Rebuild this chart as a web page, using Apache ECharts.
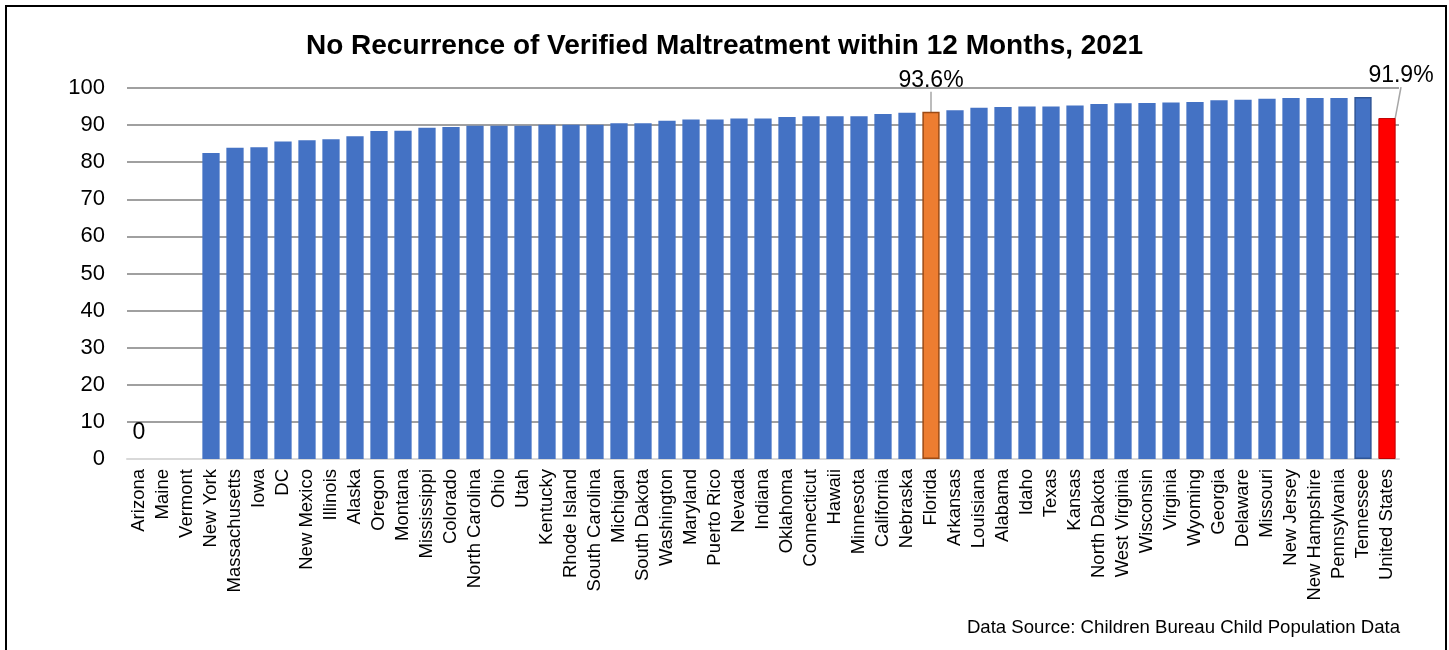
<!DOCTYPE html>
<html>
<head>
<meta charset="utf-8">
<title>No Recurrence of Verified Maltreatment</title>
<script src="https://cdn.jsdelivr.net/npm/echarts@6/dist/echarts.min.js"></script>
<style>
  html, body { margin: 0; padding: 0; background: #fff; }
  #main { width: 1449px; height: 650px; }
</style>
</head>
<body>
<div id="main"></div>
<script>
// states, sorted as in the original chart
const categories = [
  'Arizona', 'Maine', 'Vermont', 'New York', 'Massachusetts', 'Iowa', 'DC',
  'New Mexico', 'Illinois', 'Alaska', 'Oregon', 'Montana', 'Mississippi',
  'Colorado', 'North Carolina', 'Ohio', 'Utah', 'Kentucky', 'Rhode Island',
  'South Carolina', 'Michigan', 'South Dakota', 'Washington', 'Maryland',
  'Puerto Rico', 'Nevada', 'Indiana', 'Oklahoma', 'Connecticut', 'Hawaii',
  'Minnesota', 'California', 'Nebraska', 'Florida', 'Arkansas', 'Louisiana',
  'Alabama', 'Idaho', 'Texas', 'Kansas', 'North Dakota', 'West Virginia',
  'Wisconsin', 'Virginia', 'Wyoming', 'Georgia', 'Delaware', 'Missouri',
  'New Jersey', 'New Hampshire', 'Pennsylvania', 'Tennessee', 'United States',
];
// percent with no recurrence
const values = [
  0, 0, 0, 82.5, 83.9, 84.0, 85.6,
  85.9, 86.2, 87.0, 88.4, 88.5, 89.3,
  89.5, 89.8, 89.8, 89.8, 90.1, 90.1,
  90.1, 90.5, 90.5, 91.2, 91.5,
  91.5, 91.8, 91.8, 92.2, 92.4, 92.4,
  92.4, 93.0, 93.3, 93.6, 94.0, 94.7,
  94.9, 95.0, 95.0, 95.3, 95.7, 95.9,
  95.95, 96.1, 96.2, 96.7, 96.8, 97.1,
  97.3, 97.3, 97.3, 97.6, 91.9,
];
const yTicks = [0, 10, 20, 30, 40, 50, 60, 70, 80, 90, 100];
// bars that carry a value label
const labelled = { Arizona: '0', Florida: '93.6%', 'United States': '91.9%' };

const FONT = '"Liberation Sans", Arial, sans-serif';

// colour / border per highlighted bar
function barStyle(name) {
  if (name === 'Florida') return { color: '#ED7D31', borderColor: '#9C4A14', borderWidth: 1.5 };
  if (name === 'United States') return { color: '#FF0000', borderColor: '#C00000', borderWidth: 1 };
  if (name === 'Tennessee') return { color: '#4472C4', borderColor: '#2F5597', borderWidth: 1.5 };
  return { color: '#4472C4' };
}

const seriesData = categories.map((name, i) => {
  const item = { value: values[i], itemStyle: barStyle(name) };
  if (labelled[name] !== undefined) {
    item.label = {
      show      : true,
      position  : 'top',
      distance  : name === 'Arizona' ? 15 : 4,
      formatter : labelled[name],
    };
    // the zero label has no leader line
    item.labelLine = { show: name !== 'Arizona' };
  }
  return item;
});

const myChart = echarts.init(document.getElementById('main'));
myChart.setOption({
  animation : false,
  textStyle : { fontFamily: FONT },
  title     : {
    text      : 'No Recurrence of Verified Maltreatment within 12 Months, 2021',
    left      : 'center',
    top       : 27,
    textStyle : { fontFamily: FONT, fontSize: 28, fontWeight: 'bold', color: '#000' },
  },
  grid: { left: 127, right: 50, top: 88, bottom: 191 },
  xAxis: {
    type      : 'category',
    data      : categories,
    axisLine  : { lineStyle: { color: '#d9d9d9', width: 2 } },
    axisTick  : { show: false },
    axisLabel : {
      interval   : 0,
      rotate     : 90,
      margin     : 10,
      color      : '#000',
      fontSize   : 18.5,
      fontFamily : FONT,
    },
  },
  yAxis: {
    type      : 'value',
    min       : yTicks[0],
    max       : yTicks[yTicks.length - 1],
    interval  : 10,
    axisLine  : { show: false },
    axisTick  : { show: false },
    axisLabel : { color: '#000', fontSize: 22, margin: 22, fontFamily: FONT },
    splitLine : { lineStyle: { color: '#a0a0a0', width: 2 } },
  },
  series: [{
    type           : 'bar',
    data           : seriesData,
    barCategoryGap : '28%',
    label          : { color: '#000', fontSize: 23, fontFamily: FONT },
    labelLine      : { show: true, lineStyle: { color: '#a6a6a6', width: 1.5 } },
    // push the two percent labels away from their bars, leader lines follow
    labelLayout    : function (p) {
      const name = categories[p.dataIndex];
      if (name === 'Florida') return { dy: -16 };
      if (name === 'United States') return { dx: 14, dy: -27 };
      return {};
    },
  }],
  graphic: [
    {
      type   : 'rect',
      shape  : { x: 6, y: 6, width: 1440, height: 700 },
      style  : { fill: 'none', stroke: '#000', lineWidth: 2 },
      silent : true,
    },
    {
      type  : 'text',
      right : 49,
      top   : 618,
      style : {
        text : 'Data Source: Children Bureau Child Population Data',
        font : '18.6px ' + FONT,
        fill : '#000',
      },
    },
  ],
});
</script>
</body>
</html>
